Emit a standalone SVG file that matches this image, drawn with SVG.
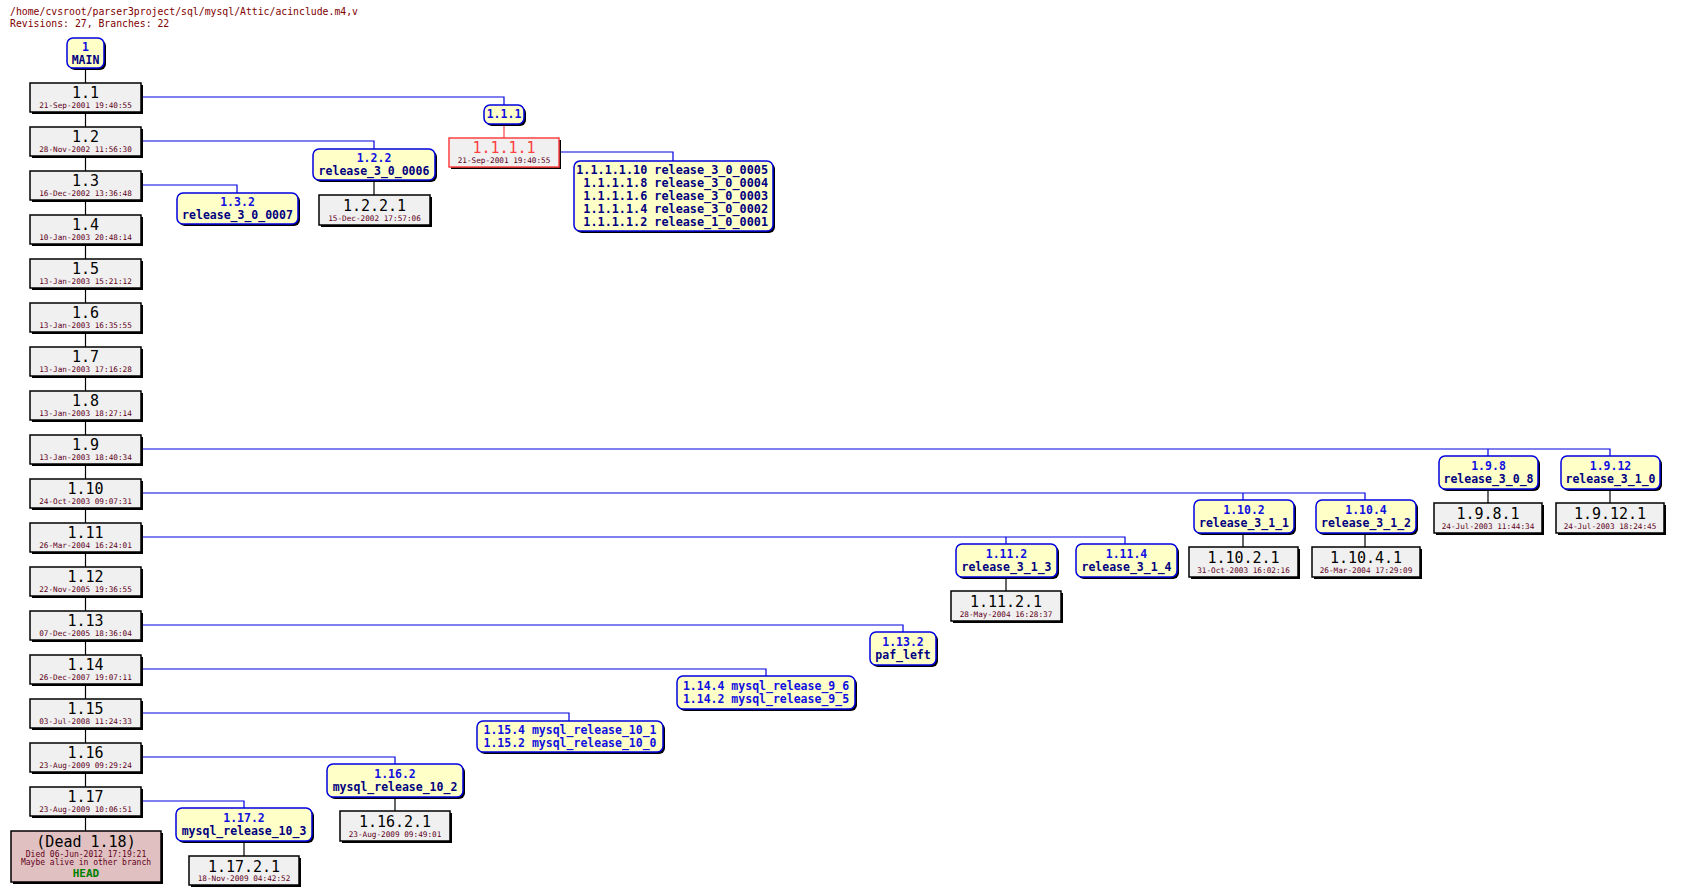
<svg xmlns="http://www.w3.org/2000/svg" width="1685" height="894" viewBox="0 0 1685 894">
<style>
text{font-family:"DejaVu Sans Mono","Liberation Mono",monospace;text-anchor:middle}
.sh{fill:#000}
.g{fill:#f0f0f0;stroke:#000;stroke-width:1.5}
.y{fill:#ffffc8;stroke:#0000e0;stroke-width:1.5}
.rv{font-size:15px;fill:#000}
.dt{font-size:7.7px;fill:#600020}
.b1{font-size:11.5px;font-weight:bold;fill:#1010e0}
.b2{font-size:11.5px;font-weight:bold;fill:#000080}
.c{fill:none;stroke:#0000e0;stroke-width:1.2}
.k{fill:none;stroke:#000;stroke-width:1.2}
</style>
<rect width="1685" height="894" fill="#fff"/>
<text x="10" y="15" style="text-anchor:start;font-size:9.8px;fill:#800000">/home/cvsroot/parser3project/sql/mysql/Attic/acinclude.m4,v</text>
<text x="10" y="27" style="text-anchor:start;font-size:9.8px;fill:#800000">Revisions: 27, Branches: 22</text>
<g id="connectors">
<path class="k" d="M85.5,68V831"/>
<path class="c" d="M141,97H504V105"/>
<path d="M504,124V138" stroke="#ff4040" stroke-width="1.2"/>
<path class="c" d="M559,152H673V161"/>
<path class="c" d="M141,141H374V149"/>
<path class="k" d="M374,180V195"/>
<path class="c" d="M141,185H237V193"/>
<path class="c" d="M141,449H1610V456M1488,449V456"/>
<path class="k" d="M1488,489V503M1610,489V503"/>
<path class="c" d="M141,493H1365V500M1243,493V500"/>
<path class="k" d="M1243,533V547M1365,533V547"/>
<path class="c" d="M141,537H1125V544M1006,537V544"/>
<path class="k" d="M1006,577V591"/>
<path class="c" d="M141,625H903V632"/>
<path class="c" d="M141,669H766V676"/>
<path class="c" d="M141,713H569V721"/>
<path class="c" d="M141,757H395V764"/>
<path class="k" d="M395,797V811"/>
<path class="c" d="M141,801H244V808"/>
<path class="k" d="M244,841V856"/>
</g>
<g id="n-main"><rect class="sh" x="69" y="40" width="37" height="30" rx="6"/><rect class="y" x="67" y="38" width="37" height="30" rx="6"/><text class="b1" x="85.5" y="51">1</text><text class="b2" x="85.5" y="64">MAIN</text></g>
<g id="n-1.1"><rect class="sh" x="32" y="85" width="111" height="29"/><rect class="g" x="30" y="83" width="111" height="29"/><text class="rv" x="85.5" y="98">1.1</text><text class="dt" x="85.5" y="108">21-Sep-2001 19:40:55</text></g>
<g id="n-1.2"><rect class="sh" x="32" y="129" width="111" height="29"/><rect class="g" x="30" y="127" width="111" height="29"/><text class="rv" x="85.5" y="142">1.2</text><text class="dt" x="85.5" y="152">28-Nov-2002 11:56:30</text></g>
<g id="n-1.3"><rect class="sh" x="32" y="173" width="111" height="29"/><rect class="g" x="30" y="171" width="111" height="29"/><text class="rv" x="85.5" y="186">1.3</text><text class="dt" x="85.5" y="196">16-Dec-2002 13:36:48</text></g>
<g id="n-1.4"><rect class="sh" x="32" y="217" width="111" height="29"/><rect class="g" x="30" y="215" width="111" height="29"/><text class="rv" x="85.5" y="230">1.4</text><text class="dt" x="85.5" y="240">10-Jan-2003 20:48:14</text></g>
<g id="n-1.5"><rect class="sh" x="32" y="261" width="111" height="29"/><rect class="g" x="30" y="259" width="111" height="29"/><text class="rv" x="85.5" y="274">1.5</text><text class="dt" x="85.5" y="284">13-Jan-2003 15:21:12</text></g>
<g id="n-1.6"><rect class="sh" x="32" y="305" width="111" height="29"/><rect class="g" x="30" y="303" width="111" height="29"/><text class="rv" x="85.5" y="318">1.6</text><text class="dt" x="85.5" y="328">13-Jan-2003 16:35:55</text></g>
<g id="n-1.7"><rect class="sh" x="32" y="349" width="111" height="29"/><rect class="g" x="30" y="347" width="111" height="29"/><text class="rv" x="85.5" y="362">1.7</text><text class="dt" x="85.5" y="372">13-Jan-2003 17:16:28</text></g>
<g id="n-1.8"><rect class="sh" x="32" y="393" width="111" height="29"/><rect class="g" x="30" y="391" width="111" height="29"/><text class="rv" x="85.5" y="406">1.8</text><text class="dt" x="85.5" y="416">13-Jan-2003 18:27:14</text></g>
<g id="n-1.9"><rect class="sh" x="32" y="437" width="111" height="29"/><rect class="g" x="30" y="435" width="111" height="29"/><text class="rv" x="85.5" y="450">1.9</text><text class="dt" x="85.5" y="460">13-Jan-2003 18:40:34</text></g>
<g id="n-1.10"><rect class="sh" x="32" y="481" width="111" height="29"/><rect class="g" x="30" y="479" width="111" height="29"/><text class="rv" x="85.5" y="494">1.10</text><text class="dt" x="85.5" y="504">24-Oct-2003 09:07:31</text></g>
<g id="n-1.11"><rect class="sh" x="32" y="525" width="111" height="29"/><rect class="g" x="30" y="523" width="111" height="29"/><text class="rv" x="85.5" y="538">1.11</text><text class="dt" x="85.5" y="548">26-Mar-2004 16:24:01</text></g>
<g id="n-1.12"><rect class="sh" x="32" y="569" width="111" height="29"/><rect class="g" x="30" y="567" width="111" height="29"/><text class="rv" x="85.5" y="582">1.12</text><text class="dt" x="85.5" y="592">22-Nov-2005 19:36:55</text></g>
<g id="n-1.13"><rect class="sh" x="32" y="613" width="111" height="29"/><rect class="g" x="30" y="611" width="111" height="29"/><text class="rv" x="85.5" y="626">1.13</text><text class="dt" x="85.5" y="636">07-Dec-2005 18:36:04</text></g>
<g id="n-1.14"><rect class="sh" x="32" y="657" width="111" height="29"/><rect class="g" x="30" y="655" width="111" height="29"/><text class="rv" x="85.5" y="670">1.14</text><text class="dt" x="85.5" y="680">26-Dec-2007 19:07:11</text></g>
<g id="n-1.15"><rect class="sh" x="32" y="701" width="111" height="29"/><rect class="g" x="30" y="699" width="111" height="29"/><text class="rv" x="85.5" y="714">1.15</text><text class="dt" x="85.5" y="724">03-Jul-2008 11:24:33</text></g>
<g id="n-1.16"><rect class="sh" x="32" y="745" width="111" height="29"/><rect class="g" x="30" y="743" width="111" height="29"/><text class="rv" x="85.5" y="758">1.16</text><text class="dt" x="85.5" y="768">23-Aug-2009 09:29:24</text></g>
<g id="n-1.17"><rect class="sh" x="32" y="789" width="111" height="29"/><rect class="g" x="30" y="787" width="111" height="29"/><text class="rv" x="85.5" y="802">1.17</text><text class="dt" x="85.5" y="812">23-Aug-2009 10:06:51</text></g>
<g id="n-dead"><rect class="sh" x="13" y="833" width="150" height="51"/><rect x="11" y="831" width="150" height="51" fill="#e0c0c0" stroke="#000" stroke-width="1.5"/><text class="rv" x="86" y="847">(Dead 1.18)</text><text class="dt" x="86" y="857" style="font-size:8px">Died 06-Jun-2012 17:19:21</text><text class="dt" x="86" y="865" style="font-size:8px">Maybe alive in other branch</text><text x="86" y="877" style="font-size:11px;font-weight:bold;fill:#008000">HEAD</text></g>
<g id="n-1.1.1"><rect class="sh" x="486" y="107" width="40" height="19" rx="6"/><rect class="y" x="484" y="105" width="40" height="19" rx="6"/><text class="b1" x="504" y="118">1.1.1</text></g>
<g id="n-1.1.1.1"><rect class="sh" x="451" y="140" width="110" height="29"/><rect x="449" y="138" width="110" height="29" fill="#f0f0f0" stroke="#ff4040" stroke-width="1.5"/><text class="rv" x="504" y="153" style="fill:#ff4040">1.1.1.1</text><text class="dt" x="504" y="163">21-Sep-2001 19:40:55</text></g>
<g id="n-1.1.1.1-tags"><rect class="sh" x="576" y="163" width="199" height="70" rx="6"/><rect class="y" x="574" y="161" width="199" height="70" rx="6"/>
<g class="b2" style="text-anchor:end;font-size:11.8px"><text x="768" y="174" style="text-anchor:end">1.1.1.1.10 release_3_0_0005</text><text x="768" y="187" style="text-anchor:end">1.1.1.1.8 release_3_0_0004</text><text x="768" y="200" style="text-anchor:end">1.1.1.1.6 release_3_0_0003</text><text x="768" y="213" style="text-anchor:end">1.1.1.1.4 release_3_0_0002</text><text x="768" y="226" style="text-anchor:end">1.1.1.1.2 release_1_0_0001</text></g></g>
<g id="n-1.2.2"><rect class="sh" x="315" y="151" width="122" height="31" rx="6"/><rect class="y" x="313" y="149" width="122" height="31" rx="6"/><text class="b1" x="374" y="162">1.2.2</text><text class="b2" x="374" y="175">release_3_0_0006</text></g>
<g id="n-1.2.2.1"><rect class="sh" x="321" y="197" width="111" height="30"/><rect class="g" x="319" y="195" width="111" height="30"/><text class="rv" x="374.5" y="211">1.2.2.1</text><text class="dt" x="374.5" y="221">15-Dec-2002 17:57:06</text></g>
<g id="n-1.3.2"><rect class="sh" x="179" y="195" width="121" height="31" rx="6"/><rect class="y" x="177" y="193" width="121" height="31" rx="6"/><text class="b1" x="237.5" y="206">1.3.2</text><text class="b2" x="237.5" y="219">release_3_0_0007</text></g>
<g id="n-1.9.8"><rect class="sh" x="1441" y="458" width="99" height="33" rx="6"/><rect class="y" x="1439" y="456" width="99" height="33" rx="6"/><text class="b1" x="1488.5" y="470">1.9.8</text><text class="b2" x="1488.5" y="483">release_3_0_8</text></g>
<g id="n-1.9.8.1"><rect class="sh" x="1436" y="505" width="108" height="30"/><rect class="g" x="1434" y="503" width="108" height="30"/><text class="rv" x="1488" y="519">1.9.8.1</text><text class="dt" x="1488" y="529">24-Jul-2003 11:44:34</text></g>
<g id="n-1.9.12"><rect class="sh" x="1563" y="458" width="99" height="33" rx="6"/><rect class="y" x="1561" y="456" width="99" height="33" rx="6"/><text class="b1" x="1610.5" y="470">1.9.12</text><text class="b2" x="1610.5" y="483">release_3_1_0</text></g>
<g id="n-1.9.12.1"><rect class="sh" x="1558" y="505" width="108" height="30"/><rect class="g" x="1556" y="503" width="108" height="30"/><text class="rv" x="1610" y="519">1.9.12.1</text><text class="dt" x="1610" y="529">24-Jul-2003 18:24:45</text></g>
<g id="n-1.10.2"><rect class="sh" x="1196" y="502" width="100" height="33" rx="6"/><rect class="y" x="1194" y="500" width="100" height="33" rx="6"/><text class="b1" x="1244" y="514">1.10.2</text><text class="b2" x="1244" y="527">release_3_1_1</text></g>
<g id="n-1.10.2.1"><rect class="sh" x="1191" y="549" width="109" height="30"/><rect class="g" x="1189" y="547" width="109" height="30"/><text class="rv" x="1243.5" y="563">1.10.2.1</text><text class="dt" x="1243.5" y="573">31-Oct-2003 16:02:16</text></g>
<g id="n-1.10.4"><rect class="sh" x="1318" y="502" width="100" height="33" rx="6"/><rect class="y" x="1316" y="500" width="100" height="33" rx="6"/><text class="b1" x="1366" y="514">1.10.4</text><text class="b2" x="1366" y="527">release_3_1_2</text></g>
<g id="n-1.10.4.1"><rect class="sh" x="1314" y="549" width="108" height="30"/><rect class="g" x="1312" y="547" width="108" height="30"/><text class="rv" x="1366" y="563">1.10.4.1</text><text class="dt" x="1366" y="573">26-Mar-2004 17:29:09</text></g>
<g id="n-1.11.2"><rect class="sh" x="958" y="546" width="101" height="33" rx="6"/><rect class="y" x="956" y="544" width="101" height="33" rx="6"/><text class="b1" x="1006.5" y="558">1.11.2</text><text class="b2" x="1006.5" y="571">release_3_1_3</text></g>
<g id="n-1.11.2.1"><rect class="sh" x="953" y="593" width="110" height="30"/><rect class="g" x="951" y="591" width="110" height="30"/><text class="rv" x="1006" y="607">1.11.2.1</text><text class="dt" x="1006" y="617">28-May-2004 16:28:37</text></g>
<g id="n-1.11.4"><rect class="sh" x="1078" y="546" width="101" height="33" rx="6"/><rect class="y" x="1076" y="544" width="101" height="33" rx="6"/><text class="b1" x="1126.5" y="558">1.11.4</text><text class="b2" x="1126.5" y="571">release_3_1_4</text></g>
<g id="n-1.13.2"><rect class="sh" x="872" y="634" width="66" height="33" rx="6"/><rect class="y" x="870" y="632" width="66" height="33" rx="6"/><text class="b1" x="903" y="646">1.13.2</text><text class="b2" x="903" y="659">paf_left</text></g>
<g id="n-1.14-tags"><rect class="sh" x="679" y="678" width="178" height="33" rx="6"/><rect class="y" x="677" y="676" width="178" height="33" rx="6"/><text class="b1" x="766" y="690">1.14.4 mysql_release_9_6</text><text class="b1" x="766" y="703">1.14.2 mysql_release_9_5</text></g>
<g id="n-1.15-tags"><rect class="sh" x="479" y="723" width="186" height="31" rx="6"/><rect class="y" x="477" y="721" width="186" height="31" rx="6"/><text class="b1" x="570" y="734">1.15.4 mysql_release_10_1</text><text class="b1" x="570" y="747">1.15.2 mysql_release_10_0</text></g>
<g id="n-1.16.2"><rect class="sh" x="329" y="766" width="136" height="33" rx="6"/><rect class="y" x="327" y="764" width="136" height="33" rx="6"/><text class="b1" x="395" y="778">1.16.2</text><text class="b2" x="395" y="791">mysql_release_10_2</text></g>
<g id="n-1.16.2.1"><rect class="sh" x="342" y="813" width="110" height="30"/><rect class="g" x="340" y="811" width="110" height="30"/><text class="rv" x="395" y="827">1.16.2.1</text><text class="dt" x="395" y="837">23-Aug-2009 09:49:01</text></g>
<g id="n-1.17.2"><rect class="sh" x="178" y="810" width="136" height="33" rx="6"/><rect class="y" x="176" y="808" width="136" height="33" rx="6"/><text class="b1" x="244" y="822">1.17.2</text><text class="b2" x="244" y="835">mysql_release_10_3</text></g>
<g id="n-1.17.2.1"><rect class="sh" x="191" y="858" width="110" height="29"/><rect class="g" x="189" y="856" width="110" height="29"/><text class="rv" x="244" y="872">1.17.2.1</text><text class="dt" x="244" y="881">18-Nov-2009 04:42:52</text></g>
</svg>
